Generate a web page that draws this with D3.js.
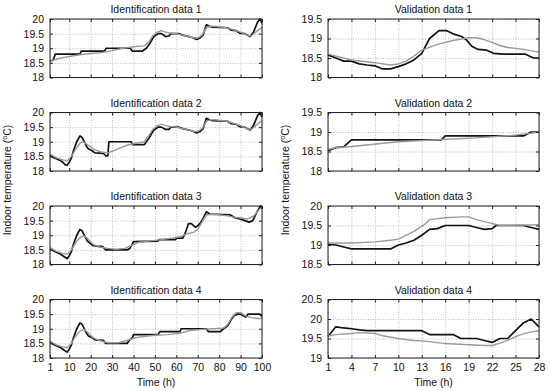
<!DOCTYPE html>
<html>
<head>
<meta charset="utf-8">
<script src="https://cdn.jsdelivr.net/npm/d3@7"></script>
<style>
  body { margin: 0; background: #fff; }
  svg { display: block; font-family: "Liberation Sans", Arial, sans-serif; }
  .grid line { stroke: #bdbdbd; stroke-dasharray: 1,1.5; }
  .grid path, .ticks path { display: none; }
  .ticks line { stroke: #222; }
  .ticks text { fill: #111; font-size: 10.5px; }
</style>
</head>
<body>
<div id="chart"></div>
<script>
// time axes
const idTicks = [1, 10, 20, 30, 40, 50, 60, 70, 80, 90, 100];
const valTicks = [1, 4, 7, 10, 13, 16, 19, 22, 25, 28];

const titles = [
  "Identification data 1", "Validation data 1",
  "Identification data 2", "Validation data 2",
  "Identification data 3", "Validation data 3",
  "Identification data 4", "Validation data 4"
];
const yRanges = [
  [18, 20], [18, 19.5],
  [18, 20], [18, 19.5],
  [18, 20], [18.5, 20],
  [18, 20], [19, 20.5]
];

// [hour, temperature] - measured (black) and model (gray)
const id1Meas = [[1,18.55],[2.5,18.6],[3.5,18.8],[15,18.8],[15.6,18.9],[26.5,18.9],[27.2,19.0],[38.5,19.0],[39.5,18.9],[44,18.9],[46,19.0],[47.5,19.15],[49.5,19.4],[51.5,19.5],[53,19.5],[55,19.4],[56.5,19.42],[57.5,19.5],[61,19.5],[63,19.45],[66,19.4],[68,19.35],[69.5,19.3],[71,19.35],[72.5,19.45],[74,19.8],[75.5,19.75],[77,19.72],[84,19.7],[85.5,19.62],[88,19.6],[89.5,19.52],[92,19.5],[93,19.45],[94.5,19.4],[96,19.55],[98,19.9],[99,20.0],[100,19.85]];
const id1Model = [[1,18.55],[5,18.65],[10,18.72],[15,18.78],[20,18.82],[25,18.85],[30,18.92],[35,19.0],[40,19.05],[45,19.08],[47,19.2],[49,19.42],[51,19.55],[53,19.6],[55,19.55],[57,19.52],[60,19.5],[63,19.45],[66,19.4],[68,19.36],[70,19.35],[72,19.45],[74,19.7],[76,19.75],[78,19.75],[82,19.72],[86,19.65],[90,19.55],[93,19.45],[95,19.42],[97,19.55],[100,19.72]];

const id2Meas = [[1,18.55],[2,18.48],[4,18.42],[6,18.35],[7,18.3],[8,18.22],[9,18.2],[10,18.3],[11,18.45],[12,18.7],[13.5,19.0],[15,19.2],[16,19.15],[17,19.0],[18,18.85],[19,18.75],[20.5,18.7],[22,18.62],[26,18.6],[27,18.52],[28,18.52],[28.5,19.0],[39,19.0],[39.5,18.9],[45,18.9],[47,19.1],[49.5,19.4],[51.5,19.5],[53,19.5],[55,19.42],[56.5,19.42],[57.5,19.5],[61,19.5],[63,19.45],[66,19.4],[68,19.35],[69.5,19.3],[71,19.35],[72.5,19.45],[74,19.8],[75.5,19.75],[77,19.72],[84,19.7],[85.5,19.62],[88,19.6],[89.5,19.52],[92,19.5],[93,19.45],[94.5,19.4],[96,19.55],[98,19.9],[99,20.0],[100,19.85]];
const id2Model = [[1,18.58],[4,18.45],[7,18.38],[9,18.35],[11,18.5],[13,18.75],[15,18.95],[16.5,19.0],[18,18.92],[20,18.82],[22,18.72],[25,18.65],[28,18.62],[31,18.7],[34,18.8],[37,18.88],[41,18.95],[45,19.0],[47,19.2],[49,19.42],[51,19.55],[53,19.6],[55,19.55],[57,19.52],[60,19.5],[63,19.45],[66,19.4],[68,19.36],[70,19.35],[72,19.45],[74,19.7],[76,19.75],[78,19.75],[82,19.72],[86,19.65],[90,19.55],[93,19.45],[95,19.42],[97,19.55],[100,19.72]];

const id3Meas = [[1,18.55],[3,18.45],[6,18.35],[8,18.25],[9,18.2],[10,18.3],[11,18.45],[12,18.7],[13.5,19.0],[15,19.2],[16,19.15],[17,19.0],[18.5,18.8],[21,18.65],[23.5,18.62],[25.5,18.62],[27,18.5],[37,18.5],[38.3,18.55],[39.5,18.7],[40,18.78],[51.5,18.8],[52,18.85],[59.5,18.85],[60,18.9],[63,18.9],[64,19.05],[65.7,19.4],[67,19.4],[69,19.27],[70.4,19.35],[72,19.5],[74,19.8],[75.8,19.72],[85,19.7],[87.5,19.6],[90,19.55],[92,19.5],[94,19.45],[95.7,19.5],[97.7,19.8],[99.3,20.0],[100,19.9]];
const id3Model = [[1,18.58],[4,18.45],[7,18.38],[9,18.35],[11,18.5],[13,18.75],[15,18.92],[17,18.98],[19,18.85],[21,18.7],[24,18.6],[28,18.55],[32,18.52],[36,18.55],[39,18.65],[42,18.75],[47,18.8],[53,18.85],[58,18.9],[62,18.95],[65,19.05],[68,19.1],[70,19.2],[72,19.45],[74,19.7],[78,19.72],[82,19.68],[87,19.62],[91,19.58],[93,19.55],[96,19.65],[99,19.9],[100,19.95]];

const id4Meas = [[1,18.55],[3,18.45],[6,18.35],[8,18.25],[9,18.2],[10,18.3],[11,18.45],[12,18.7],[13.5,19.0],[15,19.2],[16,19.15],[17,19.0],[18,18.85],[19,18.75],[20.5,18.7],[22,18.62],[26,18.6],[27,18.5],[37,18.5],[38,18.6],[39.5,18.7],[40,18.8],[51.5,18.8],[52.3,18.9],[61.7,18.9],[62.3,19.0],[74,19.0],[75,18.9],[80.5,18.9],[82,19.0],[84,19.1],[85.5,19.3],[87,19.45],[88.5,19.5],[90,19.5],[91,19.45],[92.5,19.4],[93.5,19.5],[99,19.5],[100,19.42]];
const id4Model = [[1,18.58],[4,18.45],[7,18.38],[9,18.35],[11,18.5],[13,18.75],[15,18.92],[17,18.98],[19,18.85],[21,18.7],[24,18.6],[28,18.52],[33,18.52],[36,18.58],[39,18.65],[43,18.72],[50,18.78],[56,18.8],[62,18.85],[66,18.93],[72,18.98],[77,19.0],[82,19.02],[84,19.15],[86,19.4],[88,19.55],[90,19.55],[92,19.45],[95,19.38],[98,19.35],[100,19.35]];

const val1Meas = [[1,18.58],[2,18.5],[3,18.42],[4,18.42],[5,18.35],[6,18.32],[7,18.3],[8,18.22],[9,18.22],[10,18.28],[11,18.35],[12,18.45],[13,18.62],[14,19.0],[15.2,19.2],[16.2,19.2],[17,19.12],[18.1,19.05],[18.7,18.97],[19.4,18.8],[20.2,18.72],[21.3,18.7],[22.2,18.62],[23.4,18.6],[26.2,18.6],[27.3,18.5],[28,18.5]];
const val1Model = [[1,18.6],[4,18.45],[7,18.38],[9,18.32],[10,18.35],[11,18.42],[12,18.55],[13,18.7],[15,18.85],[17,18.95],[19,19.02],[20,19.02],[21,18.97],[22,18.9],[23,18.82],[24,18.77],[26,18.72],[28,18.65]];

const val2Meas = [[1,18.52],[2,18.6],[3,18.62],[4,18.8],[15.5,18.8],[16,18.9],[26,18.9],[27,19.0],[28,19.0]];
const val2Model = [[1,18.55],[2,18.6],[4,18.63],[10,18.75],[15,18.8],[20,18.85],[25,18.92],[27,18.97],[28,19.0]];

const val3Meas = [[1,19.02],[2,19.0],[3,18.95],[4,18.9],[9,18.9],[10,19.0],[11,19.05],[12,19.12],[13,19.25],[14,19.4],[15,19.42],[16,19.5],[19,19.5],[20,19.45],[21,19.4],[22,19.42],[22.5,19.5],[26,19.5],[27,19.45],[28,19.4]];
const val3Model = [[1,19.05],[4,19.05],[7,19.08],[9,19.12],[10,19.15],[12,19.35],[13.5,19.55],[14,19.65],[16,19.7],[18,19.72],[19,19.72],[20,19.65],[21,19.6],[22,19.55],[23,19.5],[28,19.52]];

const val4Meas = [[1,19.55],[2,19.8],[3,19.77],[4,19.75],[5,19.72],[6,19.7],[13,19.7],[14,19.6],[17,19.6],[18,19.5],[20,19.5],[21,19.45],[22,19.4],[23,19.5],[24,19.5],[25,19.7],[26,19.9],[27,20.0],[28,19.8]];
const val4Model = [[1,19.57],[2,19.6],[4,19.63],[5,19.65],[7,19.63],[8,19.57],[10,19.5],[12,19.45],[13,19.44],[14,19.42],[16,19.37],[19,19.34],[21,19.32],[22,19.32],[23,19.38],[24,19.45],[25,19.55],[26,19.62],[27,19.67],[28,19.7]];

const measured = [id1Meas, val1Meas, id2Meas, val2Meas, id3Meas, val3Meas, id4Meas, val4Meas];
const modelled = [id1Model, val1Model, id2Model, val2Model, id3Model, val3Model, id4Model, val4Model];

const W = 550, H = 391;
const colX = [[50, 262], [328, 539]];
const rowTop = [19, 112.5, 206, 299.5];
const ph = 58.5;

const svg = d3.select("#chart").append("svg")
  .attr("width", W).attr("height", H);

titles.forEach((title, i) => {
  const col = i % 2, row = Math.floor(i / 2);
  const [x0, x1] = colX[col];
  const top = rowTop[row], bottom = top + ph;
  const xt = col === 0 ? idTicks : valTicks;
  const yr = yRanges[i];
  const yt = d3.range(yr[0], yr[1] + 0.01, 0.5);

  const x = d3.scaleLinear().domain([xt[0], xt[xt.length - 1]]).range([x0, x1]);
  const y = d3.scaleLinear().domain(yr).range([bottom, top]);

  const g = svg.append("g");

  // dotted grid
  g.append("g").attr("class", "grid")
    .attr("transform", `translate(0,${bottom})`)
    .call(d3.axisBottom(x).tickValues(xt).tickSize(-ph).tickFormat(""));
  g.append("g").attr("class", "grid")
    .attr("transform", `translate(${x0},0)`)
    .call(d3.axisLeft(y).tickValues(yt).tickSize(-(x1 - x0)).tickFormat(""));

  const line = d3.line().x(d => x(d[0])).y(d => y(d[1]));

  g.append("path").datum(measured[i])
    .attr("fill", "none").attr("stroke", "#111")
    .attr("stroke-width", 1.7).attr("stroke-linejoin", "round")
    .attr("d", line);
  g.append("path").datum(modelled[i])
    .attr("fill", "none").attr("stroke", "#9a9a9a")
    .attr("stroke-width", 1.4).attr("stroke-linejoin", "round")
    .attr("d", line);

  // inward ticks on every side
  g.append("g").attr("class", "ticks")
    .attr("transform", `translate(0,${bottom})`)
    .call(d3.axisBottom(x).tickValues(xt).tickSizeInner(-3).tickSizeOuter(0)
      .tickPadding(row === 3 ? 6 : 0)
      .tickFormat(row === 3 ? d3.format("d") : ""));
  g.append("g").attr("class", "ticks")
    .attr("transform", `translate(0,${top})`)
    .call(d3.axisTop(x).tickValues(xt).tickSizeInner(-3).tickSizeOuter(0).tickFormat(""));
  g.append("g").attr("class", "ticks")
    .attr("transform", `translate(${x0},0)`)
    .call(d3.axisLeft(y).tickValues(yt).tickSizeInner(-3).tickSizeOuter(0)
      .tickPadding(6).tickFormat(d3.format("~g")));
  g.append("g").attr("class", "ticks")
    .attr("transform", `translate(${x1},0)`)
    .call(d3.axisRight(y).tickValues(yt).tickSizeInner(-3).tickSizeOuter(0).tickFormat(""));

  g.append("rect")
    .attr("x", x0).attr("y", top)
    .attr("width", x1 - x0).attr("height", ph)
    .attr("fill", "none").attr("stroke", "#222").attr("stroke-width", 1);

  g.append("text")
    .attr("x", (x0 + x1) / 2).attr("y", top - 6)
    .attr("text-anchor", "middle")
    .attr("font-size", 10.5).attr("fill", "#111")
    .text(title);

  if (row === 3) {
    g.append("text")
      .attr("x", (x0 + x1) / 2).attr("y", 386)
      .attr("text-anchor", "middle")
      .attr("font-size", 10.5).attr("fill", "#111")
      .text("Time (h)");
  }
});

// y labels
[11, 289].forEach(lx => {
  const t = svg.append("text")
    .attr("transform", `translate(${lx},180) rotate(-90)`)
    .attr("text-anchor", "middle")
    .attr("font-size", 10.5).attr("fill", "#111");
  t.append("tspan").text("Indoor temperature (");
  t.append("tspan").attr("font-size", 7).attr("dy", -4).text("o");
  t.append("tspan").attr("dy", 4).text("C)");
});
</script>
</body>
</html>
